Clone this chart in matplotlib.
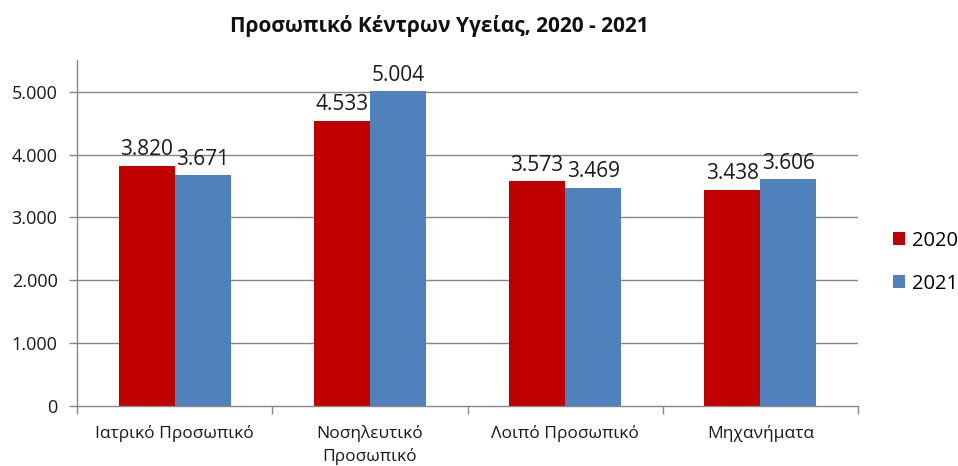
import numpy as np
import matplotlib
matplotlib.use('Agg')
import matplotlib.pyplot as plt
from matplotlib.ticker import FuncFormatter, FixedLocator

plt.rcParams['font.family'] = ['Open Sans', 'Noto Sans', 'DejaVu Sans']

# data
categories = ['Ιατρικό Προσωπικό', 'Νοσηλευτικό\nΠροσωπικό', 'Λοιπό Προσωπικό', 'Μηχανήματα']
values_2020 = [3820, 4533, 3573, 3438]
values_2021 = [3671, 5004, 3469, 3606]
series_names = ['2020', '2021']
y_ticks = [0, 1000, 2000, 3000, 4000, 5000]

col_2020 = '#C00000'
col_2021 = '#4F81BD'
axis_col = '#868686'


def dot_thousands(v, pos=None):
    return '{:,.0f}'.format(v).replace(',', '.')


fig = plt.figure(figsize=(9.58, 4.66), dpi=100)
ax = fig.add_axes([0.0804, 0.1288, 0.8152, 0.742])

x = np.arange(len(categories)) + 0.5
w = 0.287

bars1 = ax.bar(x - w / 2, values_2020, w, color=col_2020, label=series_names[0])
bars2 = ax.bar(x + w / 2, values_2021, w, color=col_2021, label=series_names[1])

for bars, vals in [(bars1, values_2020), (bars2, values_2021)]:
    for b, v in zip(bars, vals):
        ax.annotate(dot_thousands(v), (b.get_x() + b.get_width() / 2, v),
                    xytext=(0, 4), textcoords='offset points',
                    ha='center', va='bottom', fontsize=15, color='#1a1a1a')

ax.set_xlim(0, len(categories))
ax.set_ylim(0, 5500)
ax.yaxis.set_major_locator(FixedLocator(y_ticks))
ax.yaxis.set_major_formatter(FuncFormatter(dot_thousands))
for t in y_ticks[1:]:
    ax.axhline(t, color=axis_col, linewidth=1, zorder=0)

# category boundaries as x ticks, labels at the centres
ax.set_xticks(np.arange(len(categories) + 1))
ax.set_xticklabels([])
ax.set_xticks(x, minor=True)
ax.set_xticklabels(categories, minor=True, fontsize=12.5, color='#1a1a1a', va='top',
                   linespacing=1.45)
ax.tick_params(axis='x', which='minor', length=0, pad=14)
ax.tick_params(axis='x', which='major', length=6, color=axis_col, width=1)
ax.tick_params(axis='y', length=6, color=axis_col, width=1, labelsize=13,
               labelcolor='#1a1a1a', pad=8)

for s in ['top', 'right']:
    ax.spines[s].set_visible(False)
for s in ['left', 'bottom']:
    ax.spines[s].set_color(axis_col)
    ax.spines[s].set_linewidth(1)

fig.text(0.459, 0.945, 'Προσωπικό Κέντρων Υγείας, 2020 - 2021', ha='center', va='center',
         fontsize=15, fontweight='bold', color='#111111')

leg = fig.legend(handles=[bars1, bars2], labels=series_names, loc='center left',
                 bbox_to_anchor=(0.932, 0.437), frameon=False, fontsize=14.5,
                 handlelength=0.6, handleheight=0.6, handletextpad=0.35, labelspacing=1.15,
                 borderaxespad=0, borderpad=0)

fig.savefig('out.png', dpi=100)
